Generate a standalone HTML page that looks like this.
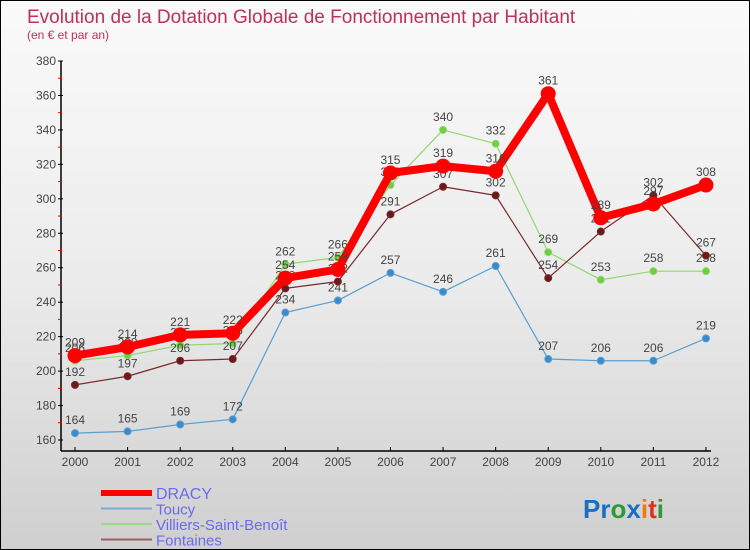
<!DOCTYPE html>
<html><head><meta charset="utf-8"><style>
body{margin:0}
#c{width:748px;height:548px;border:1px solid #000;background:linear-gradient(#fafafa,#ececec 50%,#cfcfcf);position:relative;font-family:"Liberation Sans",sans-serif;overflow:hidden}
</style></head><body>
<div id="c">
<svg id="s" width="748" height="548" style="position:absolute;left:0;top:0">
<text x="26" y="22" font-size="19" fill="#c0305a">Evolution de la Dotation Globale de Fonctionnement par Habitant</text>
<text x="26" y="38" font-size="12" fill="#c0305a">(en € et par an)</text>
<g id="axes"></g><g id="series"></g><g id="legend"></g>
<text x="582" y="517" font-size="26" font-weight="bold"><tspan fill="#1a6fc4">Pr</tspan><tspan fill="#2a9a3a">o</tspan><tspan fill="#1a6fc4">x</tspan><tspan fill="#f07a10">i</tspan><tspan fill="#e03020">t</tspan><tspan fill="#2a9a3a">i</tspan></text>
</svg></div>
<script>
const years=[2000,2001,2002,2003,2004,2005,2006,2007,2008,2009,2010,2011,2012];
const dracy=[209,214,221,222,254,259,315,319,316,361,289,297,308];
const toucy=[164,165,169,172,234,241,257,246,261,207,206,206,219];
const villiers=[206,209,215,216,262,266,308,340,332,269,253,258,258];
const fontaines=[192,197,206,207,248,252,291,307,302,254,281,302,267];
const yTicks=[160,180,200,220,240,260,280,300,320,340,360,380];
const NS="http://www.w3.org/2000/svg";
function X(i){return 74+i*52.58;}
function Y(v){return 439-(v-160)*(379/220);}
function mk(p,t,a){const e=document.createElementNS(NS,t);for(const k in a)e.setAttribute(k,a[k]);p.appendChild(e);return e;}
const ax=document.getElementById('axes');
const yl=mk(ax,'line',{x1:60,y1:60,x2:60,y2:450,stroke:'#000','stroke-width':1.5});


const xl=mk(ax,'line',{x1:60,y1:450,x2:710,y2:450,stroke:'#000','stroke-width':1.5});


yTicks.forEach((v,i)=>{
  mk(ax,'line',{x1:57,y1:Y(v),x2:62,y2:Y(v),stroke:'#000'});
  if(i<yTicks.length-1) mk(ax,'line',{x1:57,y1:Y(v+10),x2:61,y2:Y(v+10),stroke:'#e00'});
  const t=mk(ax,'text',{x:55,y:Y(v)+4,'font-size':12,fill:'#444','text-anchor':'end'});
  t.textContent=v;
  
  
});
years.forEach((y,i)=>{
  mk(ax,'line',{x1:X(i),y1:446,x2:X(i),y2:450,stroke:'#000'});
  const t=mk(ax,'text',{x:X(i),y:465,'font-size':12,fill:'#444','text-anchor':'middle'});
  t.textContent=y;
  
  
});
const sg=document.getElementById('series');
function draw(data,color,w,r,dot,name){
  const g=mk(sg,'g',{});
  
  
  const pl=mk(g,'polyline',{points:data.map((v,i)=>X(i)+','+Y(v)).join(' '),fill:'none',stroke:color,'stroke-width':w,'stroke-linejoin':'round'});
  
  
  data.forEach((v,i)=>{
    const c=mk(g,'circle',{cx:X(i),cy:Y(v),r:r,fill:dot,stroke:color,'stroke-width':1});
    
    
    const t=mk(g,'text',{x:X(i),y:Y(v)-9,'font-size':12,fill:'#444','text-anchor':'middle'});
    t.textContent=v;
    
    
  });
}
draw(toucy,'#5a9fd0',1.2,3.5,'#3a8ad0','toucy');
draw(villiers,'#8fd870',1.2,3.5,'#70cc40','villiers');
draw(fontaines,'#7a2a2a',1.2,3.5,'#6a1a1a','fontaines');
draw(dracy,'#f00',8,7,'#f00','dracy');
const lg=document.getElementById('legend');
[['DRACY','#f00',6],['Toucy','#7aaed0',2],['Villiers-Saint-Benoît','#9ada80',2],['Fontaines','#9a6060',2]].forEach((e,i)=>{
  const y=492+i*15.5;
  const g=mk(lg,'g',{});
  
  
  mk(g,'line',{x1:100,y1:y,x2:151,y2:y,stroke:e[1],'stroke-width':e[2]});
  const t=mk(g,'text',{x:155,y:y+6,'font-size':i==0?16:15,fill:'#6a6af0'});
  t.textContent=e[0];
});
</script>
</body></html>
